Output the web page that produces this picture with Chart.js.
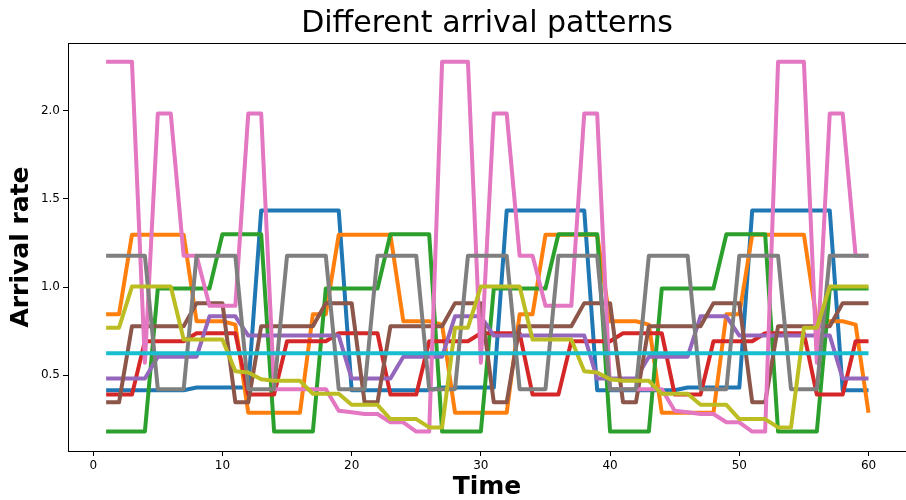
<!DOCTYPE html>
<html>
<head>
<meta charset="utf-8">
<script src="https://cdn.jsdelivr.net/npm/chart.js@4/dist/chart.umd.min.js"></script>
<style>
  body { margin: 0; background: #fff; }
  #wrap { width: 906px; height: 500px; }
</style>
</head>
<body>
<div id="wrap"><canvas id="chart" width="906" height="500"></canvas></div>
<script>
// time steps on the x axis
const times = [1,2,3,4,5,6,7,8,9,10,11,12,13,14,15,16,17,18,19,20,
               21,22,23,24,25,26,27,28,29,30,31,32,33,34,35,36,37,38,39,40,
               41,42,43,44,45,46,47,48,49,50,51,52,53,54,55,56,57,58,59,60];

// arrival rates, one list per pattern
const blueRates = [0.415,0.415,0.415,0.415,0.415,0.415,0.415,0.43,0.43,0.43,
                   0.43,0.43,1.435,1.435,1.435,1.435,1.435,1.435,1.435,0.415,
                   0.415,0.415,0.415,0.415,0.415,0.415,0.43,0.43,0.43,0.43,
                   0.43,1.435,1.435,1.435,1.435,1.435,1.435,1.435,0.415,0.415,
                   0.415,0.415,0.415,0.415,0.415,0.43,0.43,0.43,0.43,0.43,
                   1.435,1.435,1.435,1.435,1.435,1.435,1.435,0.415,0.415,0.415];
const orangeRates = [0.846,0.846,1.297,1.297,1.297,1.297,1.297,0.806,0.806,0.806,
                     0.787,0.287,0.287,0.287,0.287,0.287,0.846,0.846,1.297,1.297,
                     1.297,1.297,1.297,0.806,0.806,0.806,0.787,0.287,0.287,0.287,
                     0.287,0.287,0.846,0.846,1.297,1.297,1.297,1.297,1.297,0.806,
                     0.806,0.806,0.787,0.287,0.287,0.287,0.287,0.287,0.846,0.846,
                     1.297,1.297,1.297,1.297,1.297,0.806,0.806,0.806,0.787,0.287];
const greenRates = [0.18,0.18,0.18,0.18,0.992,0.992,0.992,0.992,0.992,1.30,
                    1.30,1.30,1.30,0.18,0.18,0.18,0.18,0.992,0.992,0.992,
                    0.992,0.992,1.30,1.30,1.30,1.30,0.18,0.18,0.18,0.18,
                    0.992,0.992,0.992,0.992,0.992,1.30,1.30,1.30,1.30,0.18,
                    0.18,0.18,0.18,0.992,0.992,0.992,0.992,0.992,1.30,1.30,
                    1.30,1.30,0.18,0.18,0.18,0.18,0.992,0.992,0.992,0.992];
const redRates = [0.39,0.39,0.39,0.693,0.693,0.693,0.693,0.738,0.738,0.738,
                  0.738,0.39,0.39,0.39,0.693,0.693,0.693,0.693,0.738,0.738,
                  0.738,0.738,0.39,0.39,0.39,0.693,0.693,0.693,0.693,0.738,
                  0.738,0.738,0.738,0.39,0.39,0.39,0.693,0.693,0.693,0.693,
                  0.738,0.738,0.738,0.738,0.39,0.39,0.39,0.693,0.693,0.693,
                  0.693,0.738,0.738,0.738,0.738,0.39,0.39,0.39,0.693,0.693];
const purpleRates = [0.481,0.481,0.481,0.481,0.605,0.605,0.605,0.605,0.834,0.834,
                     0.834,0.725,0.725,0.725,0.725,0.725,0.725,0.725,0.725,0.481,
                     0.481,0.481,0.481,0.605,0.605,0.605,0.605,0.834,0.834,0.834,
                     0.725,0.725,0.725,0.725,0.725,0.725,0.725,0.725,0.481,0.481,
                     0.481,0.481,0.605,0.605,0.605,0.605,0.834,0.834,0.834,0.725,
                     0.725,0.725,0.725,0.725,0.725,0.725,0.725,0.481,0.481,0.481];
const brownRates = [0.346,0.346,0.778,0.778,0.778,0.778,0.778,0.909,0.909,0.909,
                    0.346,0.346,0.778,0.778,0.778,0.778,0.778,0.909,0.909,0.909,
                    0.346,0.346,0.778,0.778,0.778,0.778,0.778,0.909,0.909,0.909,
                    0.346,0.346,0.778,0.778,0.778,0.778,0.778,0.909,0.909,0.909,
                    0.346,0.346,0.778,0.778,0.778,0.778,0.778,0.909,0.909,0.909,
                    0.346,0.346,0.778,0.778,0.778,0.778,0.778,0.909,0.909,0.909];
const pinkRates = [2.278,2.278,2.278,0.571,1.985,1.985,1.178,1.178,0.894,0.894,
                   0.894,1.985,1.985,0.421,0.421,0.421,0.421,0.421,0.298,0.29,
                   0.28,0.28,0.233,0.233,0.18,0.18,2.278,2.278,2.278,0.571,
                   1.985,1.985,1.178,1.178,0.894,0.894,0.894,1.985,1.985,0.421,
                   0.421,0.421,0.421,0.421,0.298,0.29,0.28,0.28,0.233,0.233,
                   0.18,0.18,2.278,2.278,2.278,0.571,1.985,1.985,1.178,1.178];
const grayRates = [1.178,1.178,1.178,1.178,0.421,0.421,0.421,1.178,1.178,1.178,
                   1.178,0.421,0.421,0.421,1.178,1.178,1.178,1.178,0.421,0.421,
                   0.421,1.178,1.178,1.178,1.178,0.421,0.421,0.421,1.178,1.178,
                   1.178,1.178,0.421,0.421,0.421,1.178,1.178,1.178,1.178,0.421,
                   0.421,0.421,1.178,1.178,1.178,1.178,0.421,0.421,0.421,1.178,
                   1.178,1.178,1.178,0.421,0.421,0.421,1.178,1.178,1.178,1.178];
const oliveRates = [0.77,0.77,1.003,1.003,1.003,1.003,0.703,0.703,0.703,0.703,
                    0.522,0.515,0.477,0.468,0.468,0.468,0.395,0.395,0.395,0.332,
                    0.332,0.332,0.251,0.251,0.251,0.204,0.204,0.77,0.77,1.003,
                    1.003,1.003,1.003,0.703,0.703,0.703,0.703,0.522,0.515,0.477,
                    0.468,0.468,0.468,0.395,0.395,0.395,0.332,0.332,0.332,0.251,
                    0.251,0.251,0.204,0.204,0.77,0.77,1.003,1.003,1.003,1.003];
const cyanRates = [0.624,0.624,0.624,0.624,0.624,0.624,0.624,0.624,0.624,0.624,
                   0.624,0.624,0.624,0.624,0.624,0.624,0.624,0.624,0.624,0.624,
                   0.624,0.624,0.624,0.624,0.624,0.624,0.624,0.624,0.624,0.624,
                   0.624,0.624,0.624,0.624,0.624,0.624,0.624,0.624,0.624,0.624,
                   0.624,0.624,0.624,0.624,0.624,0.624,0.624,0.624,0.624,0.624,
                   0.624,0.624,0.624,0.624,0.624,0.624,0.624,0.624,0.624,0.624];

const xTicks = [0, 10, 20, 30, 40, 50, 60];
const yTicks = [0.5, 1.0, 1.5, 2.0];

const series = [blueRates, orangeRates, greenRates, redRates, purpleRates,
                brownRates, pinkRates, grayRates, oliveRates, cyanRates];
const colors = ['#1f77b4', '#ff7f0e', '#2ca02c', '#d62728', '#9467bd',
                '#8c564b', '#e377c2', '#7f7f7f', '#bcbd22', '#17becf'];

const FONT = "'DejaVu Sans', sans-serif";

// matplotlib draws later lines on top, chart.js the other way round
const datasets = series.map((vals, i) => ({
    data: vals.map((v, j) => ({ x: times[j], y: v })),
    borderColor: colors[i],
    borderWidth: 4,
    borderJoinStyle: 'round',
    pointRadius: 0,
    tension: 0,
    fill: false,
    order: series.length - i
}));

// full box around the plot, like the matplotlib spines
const frame = {
    id: 'frame',
    afterDatasetsDraw(chart) {
        const { ctx, chartArea: a } = chart;
        ctx.save();
        ctx.strokeStyle = '#000';
        ctx.lineWidth = 1;
        ctx.strokeRect(a.left + 0.5, a.top + 0.5, a.right - a.left, a.bottom - a.top);
        ctx.restore();
    }
};

new Chart(document.getElementById('chart'), {
    type: 'line',
    data: { datasets: datasets },
    plugins: [frame],
    options: {
        responsive: false,
        animation: false,
        layout: { padding: 0 },
        plugins: {
            legend: { display: false },
            tooltip: { enabled: false },
            title: {
                display: true,
                fullSize: false, // centre over the plot, not the canvas
                text: 'Different arrival patterns',
                color: '#000',
                font: { family: FONT, size: 30, weight: 'normal' },
                padding: { top: 6.2, bottom: 0.8 }
            }
        },
        scales: {
            x: {
                type: 'linear',
                min: -1.95,
                max: 62.9,
                afterBuildTicks: s => { s.ticks = xTicks.map(v => ({ value: v })); },
                afterFit: s => { s.height = 49; },
                ticks: {
                    color: '#000',
                    font: { family: FONT, size: 12 },
                    maxRotation: 0,
                    padding: 3
                },
                grid: { drawOnChartArea: false, drawTicks: true, tickLength: 5, color: '#000' },
                border: { display: true, color: '#000', width: 1 },
                title: {
                    display: true,
                    text: 'Time',
                    color: '#000',
                    font: { family: FONT, size: 25, weight: 'bold' },
                    padding: { top: 0, bottom: -2.5 }
                }
            },
            y: {
                min: 0.07,
                max: 2.385,
                afterBuildTicks: s => { s.ticks = yTicks.map(v => ({ value: v })); },
                afterFit: s => { s.width = 68; },
                ticks: {
                    color: '#000',
                    font: { family: FONT, size: 12 },
                    padding: 3,
                    callback: v => v.toFixed(1)
                },
                grid: { drawOnChartArea: false, drawTicks: true, tickLength: 5, color: '#000' },
                border: { display: true, color: '#000', width: 1 },
                title: {
                    display: true,
                    text: 'Arrival rate',
                    color: '#000',
                    font: { family: FONT, size: 25, weight: 'bold' },
                    padding: { top: 6.5, bottom: 0 }
                }
            }
        }
    }
});
</script>
</body>
</html>
